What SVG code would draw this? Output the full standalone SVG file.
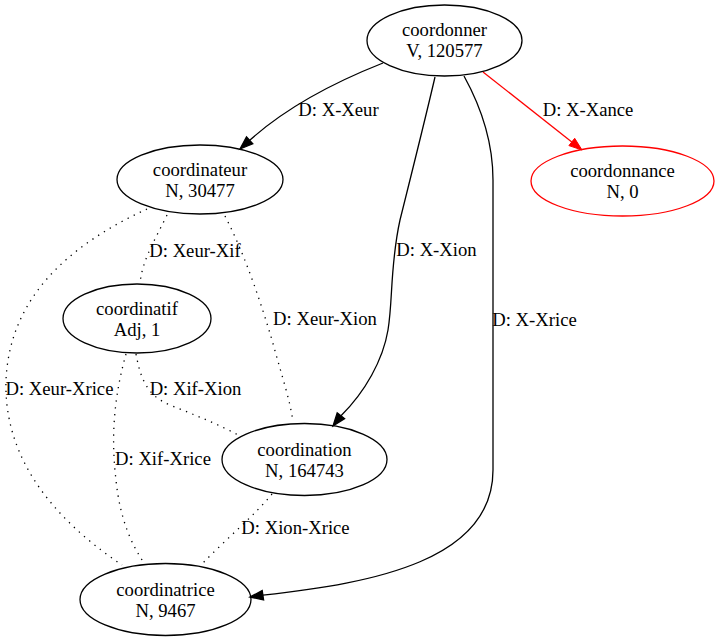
<svg xmlns="http://www.w3.org/2000/svg" width="720" height="641" viewBox="0 0 720 641">
<style>
text{font-family:"Liberation Serif","Times New Roman",Tinos,"DejaVu Serif",serif;font-size:18.67px;fill:#000;text-anchor:middle}
.node ellipse{fill:none;stroke:#000;stroke-width:1.3}
.e{fill:none;stroke:#000;stroke-width:1.3}
.d{fill:none;stroke:#000;stroke-width:1.3;stroke-dasharray:1.3,5.5}
.ah{fill:#000;stroke:#000;stroke-width:1.3}
.red{stroke:#f00}
.redf{fill:#f00;stroke:#f00}
</style>
<rect width="720" height="641" fill="#fff"/>
<g id="edges">
  <path class="e" d="M383,63 C345,78 290,104 249.7,140.3"/>
  <polygon class="ah" points="240,149 252.8,143.8 246.5,136.8"/>
  <text x="338.5" y="116">D: X-Xeur</text>

  <path class="e" d="M435,77 C425,120 410,180 400,220 C390,265 393,300 388,330 C383,360 365,392 341,415.7"/>
  <polygon class="ah" points="333,426 344.6,418.6 337.2,412.8"/>
  <text x="436.5" y="256">D: X-Xion</text>

  <path class="e" d="M464,76 C480,105 493,140 493,180 L493,470 C493,560 375,583 262.9,595.2"/>
  <polygon class="ah" points="250,597 263.6,599.9 262.2,590.6"/>
  <text x="534.5" y="326">D: X-Xrice</text>

  <path class="e red" d="M483,72 L571.8,141.95"/>
  <polygon class="redf" points="582,150 568.9,145.6 574.7,138.3"/>
  <text x="588" y="116">D: X-Xance</text>

  <path class="d" d="M167,215 C155,240 142,260 140,284"/>
  <text x="195" y="256.7">D: Xeur-Xif</text>

  <path class="d" d="M225,216 C245,255 260,300 272,340 C283,380 290,400 293,422"/>
  <text x="325" y="325">D: Xeur-Xion</text>

  <path class="d" d="M147,209 C80,240 10,290 6,380 C3,470 70,530 122,565"/>
  <text x="59.5" y="395">D: Xeur-Xrice</text>

  <path class="d" d="M136,354 C140,375 145,395 170,405 C195,415 220,425 240,436"/>
  <text x="195.5" y="395">D: Xif-Xion</text>

  <path class="d" d="M126,354 C116,390 110,430 116,480 C120,520 132,545 144,563"/>
  <text x="163" y="465">D: Xif-Xrice</text>

  <path class="d" d="M272,494 C255,515 225,540 202,564"/>
  <text x="295.5" y="534">D: Xion-Xrice</text>
</g>
<g id="coordonner" class="node">
  <ellipse cx="444.5" cy="40.5" rx="77.5" ry="35.5"/>
  <text x="444.5" y="36">coordonner</text>
  <text x="444.5" y="56.5">V, 120577</text>
</g>
<g id="coordonnance" class="node">
  <ellipse cx="622.5" cy="181" rx="91.5" ry="35" style="stroke:#f00"/>
  <text x="622.5" y="177">coordonnance</text>
  <text x="622.5" y="197.5">N, 0</text>
</g>
<g id="coordinateur" class="node">
  <ellipse cx="200" cy="179.5" rx="83" ry="34.5"/>
  <text x="200" y="176">coordinateur</text>
  <text x="200" y="196.5">N, 30477</text>
</g>
<g id="coordinatif" class="node">
  <ellipse cx="137" cy="318.5" rx="74" ry="34.5"/>
  <text x="137" y="315">coordinatif</text>
  <text x="137" y="335.5">Adj, 1</text>
</g>
<g id="coordination" class="node">
  <ellipse cx="304.5" cy="459.5" rx="82.5" ry="36"/>
  <text x="304.5" y="456">coordination</text>
  <text x="304.5" y="476.5">N, 164743</text>
</g>
<g id="coordinatrice" class="node">
  <ellipse cx="165.5" cy="599.5" rx="85.5" ry="36"/>
  <text x="165.5" y="596">coordinatrice</text>
  <text x="165.5" y="616.5">N, 9467</text>
</g>
</svg>
